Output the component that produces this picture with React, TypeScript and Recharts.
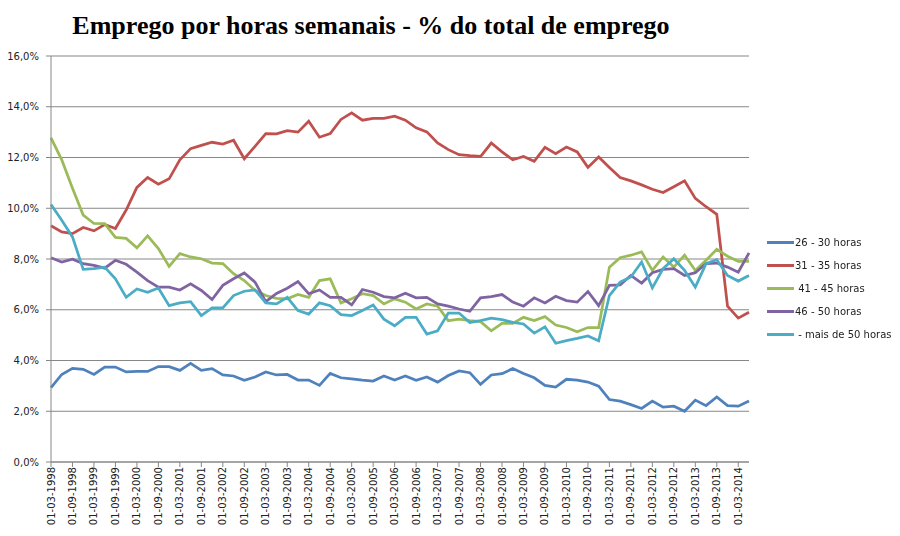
import { CartesianGrid, Legend, Line, LineChart, XAxis, YAxis } from 'recharts'

const quarters = [
  '01-03-1998', '01-06-1998', '01-09-1998', '01-12-1998',
  '01-03-1999', '01-06-1999', '01-09-1999', '01-12-1999',
  '01-03-2000', '01-06-2000', '01-09-2000', '01-12-2000',
  '01-03-2001', '01-06-2001', '01-09-2001', '01-12-2001',
  '01-03-2002', '01-06-2002', '01-09-2002', '01-12-2002',
  '01-03-2003', '01-06-2003', '01-09-2003', '01-12-2003',
  '01-03-2004', '01-06-2004', '01-09-2004', '01-12-2004',
  '01-03-2005', '01-06-2005', '01-09-2005', '01-12-2005',
  '01-03-2006', '01-06-2006', '01-09-2006', '01-12-2006',
  '01-03-2007', '01-06-2007', '01-09-2007', '01-12-2007',
  '01-03-2008', '01-06-2008', '01-09-2008', '01-12-2008',
  '01-03-2009', '01-06-2009', '01-09-2009', '01-12-2009',
  '01-03-2010', '01-06-2010', '01-09-2010', '01-12-2010',
  '01-03-2011', '01-06-2011', '01-09-2011', '01-12-2011',
  '01-03-2012', '01-06-2012', '01-09-2012', '01-12-2012',
  '01-03-2013', '01-06-2013', '01-09-2013', '01-12-2013',
  '01-03-2014', '01-06-2014',
]

const h26_30 = [
  2.93, 3.45, 3.69, 3.65, 3.45, 3.74, 3.74, 3.55, 3.57, 3.57, 3.76,
  3.76, 3.61, 3.89, 3.61, 3.68, 3.43, 3.39, 3.22, 3.35, 3.55, 3.43,
  3.45, 3.23, 3.23, 3.02, 3.49, 3.32, 3.28, 3.23, 3.19, 3.39, 3.23,
  3.39, 3.22, 3.35, 3.15, 3.41, 3.59, 3.52, 3.06, 3.43, 3.48, 3.68,
  3.49, 3.32, 3.02, 2.95, 3.26, 3.23, 3.15, 2.99, 2.46, 2.4, 2.26,
  2.11, 2.4, 2.16, 2.2, 2.0, 2.44, 2.22, 2.56, 2.22, 2.2, 2.4,
]

const h31_35 = [
  9.31, 9.07, 9.0, 9.24, 9.11, 9.36, 9.2, 9.93, 10.82, 11.21, 10.95,
  11.16, 11.91, 12.35, 12.48, 12.6, 12.53, 12.68, 11.95, 12.44, 12.94, 12.93,
  13.06, 13.0, 13.43, 12.8, 12.94, 13.5, 13.76, 13.47, 13.54, 13.54, 13.63,
  13.47, 13.17, 13.01, 12.57, 12.31, 12.11, 12.07, 12.04, 12.57, 12.22, 11.91,
  12.04, 11.85, 12.4, 12.15, 12.41, 12.22, 11.61, 12.02, 11.61, 11.21, 11.08,
  10.92, 10.75, 10.62, 10.85, 11.08, 10.39, 10.06, 9.76, 6.14, 5.67, 5.9,
]

const h41_45 = [
  12.77, 11.91, 10.79, 9.73, 9.4, 9.39, 8.85, 8.81, 8.44, 8.91, 8.41,
  7.71, 8.21, 8.08, 8.01, 7.84, 7.82, 7.42, 7.15, 6.76, 6.56, 6.45,
  6.43, 6.6, 6.49, 7.15, 7.22, 6.27, 6.43, 6.63, 6.56, 6.23, 6.43,
  6.3, 6.03, 6.23, 6.14, 5.57, 5.63, 5.57, 5.53, 5.17, 5.46, 5.46,
  5.7, 5.57, 5.73, 5.4, 5.3, 5.13, 5.3, 5.3, 7.68, 8.05, 8.15,
  8.28, 7.55, 8.08, 7.68, 8.15, 7.55, 7.95, 8.38, 8.11, 7.91, 7.91,
]

const h46_50 = [
  8.05, 7.88, 7.99, 7.82, 7.75, 7.64, 7.95, 7.79, 7.48, 7.15, 6.89,
  6.89, 6.78, 7.02, 6.76, 6.4, 6.96, 7.22, 7.45, 7.09, 6.32, 6.64,
  6.85, 7.11, 6.63, 6.78, 6.49, 6.49, 6.19, 6.8, 6.69, 6.52, 6.47,
  6.65, 6.47, 6.49, 6.23, 6.14, 6.03, 5.94, 6.47, 6.52, 6.6, 6.3,
  6.14, 6.47, 6.27, 6.53, 6.36, 6.3, 6.72, 6.16, 6.96, 6.98, 7.35,
  7.05, 7.46, 7.59, 7.62, 7.35, 7.46, 7.82, 7.84, 7.68, 7.48, 8.24,
]

const h50plus = [
  10.15, 9.53, 8.87, 7.59, 7.62, 7.68, 7.22, 6.49, 6.82, 6.69, 6.86,
  6.16, 6.27, 6.32, 5.77, 6.07, 6.07, 6.56, 6.73, 6.78, 6.27, 6.23,
  6.49, 5.97, 5.83, 6.27, 6.16, 5.81, 5.77, 5.97, 6.19, 5.63, 5.37,
  5.7, 5.7, 5.04, 5.17, 5.87, 5.87, 5.5, 5.57, 5.67, 5.61, 5.5,
  5.44, 5.08, 5.33, 4.68, 4.78, 4.87, 4.97, 4.78, 6.56, 7.09, 7.29,
  7.88, 6.86, 7.62, 8.01, 7.55, 6.89, 7.82, 7.97, 7.35, 7.13, 7.35,
]

const yTicks = [0, 2, 4, 6, 8, 10, 12, 14, 16]

const series = [
  { key: 'a', name: '26 - 30 horas', values: h26_30, color: '#4f81bd' },
  { key: 'b', name: '31 - 35 horas', values: h31_35, color: '#c0504d' },
  { key: 'c', name: ' 41 - 45 horas', values: h41_45, color: '#9bbb59' },
  { key: 'd', name: '46 - 50 horas', values: h46_50, color: '#8064a2' },
  { key: 'e', name: ' - mais de 50 horas', values: h50plus, color: '#4bacc6' },
]

const data = quarters.map((q, i) => {
  const row: Record<string, string | number> = { q }
  series.forEach((s) => {
    row[s.key] = s.values[i]
  })
  return row
})

const font = '"DejaVu Sans", Verdana, sans-serif'
const gridColor = '#878787'

const DateTick = (props: any) => {
  const { x, y, payload } = props
  return (
    <text
      x={x}
      y={y}
      transform={`rotate(-90, ${x}, ${y})`}
      textAnchor="end"
      dy="0.35em"
      fontSize={10}
      fontFamily={font}
      fill="#222"
    >
      {payload.value}
    </text>
  )
}

// keep legend rows in series order (recharts sorts by name otherwise)
const renderLegend = (props: any) => {
  const order = series.map((s) => s.name)
  const items = [...props.payload].sort((a: any, b: any) => order.indexOf(a.value) - order.indexOf(b.value))
  return (
    <div style={{ fontFamily: font, fontSize: 10, color: '#222' }}>
      {items.map((entry: any) => (
        <div key={entry.value} style={{ display: 'flex', alignItems: 'center', height: 23 }}>
          <span style={{ display: 'inline-block', width: 27, height: 3, background: entry.color }} />
          <span style={{ marginLeft: 1, whiteSpace: 'pre' }}>{entry.value}</span>
        </div>
      ))}
    </div>
  )
}

export default function App() {
  return (
    <div style={{ position: 'fixed', left: 0, top: 0, width: 900, height: 536, background: '#fff' }}>
      <div
        style={{
          position: 'absolute',
          left: 0,
          top: 13,
          width: 742,
          textAlign: 'center',
          fontFamily: '"Liberation Serif", "Times New Roman", serif',
          fontWeight: 'bold',
          fontSize: 26,
          lineHeight: '26px',
          color: '#000',
        }}
      >
        Emprego por horas semanais - % do total de emprego
      </div>
      <LineChart width={900} height={536} data={data} margin={{ top: 56, right: 11, bottom: 0, left: 0 }}>
        <CartesianGrid vertical={false} stroke={gridColor} strokeWidth={1} />
        <XAxis
          dataKey="q"
          interval={1}
          height={74}
          tick={<DateTick />}
          tickSize={5}
          tickMargin={0}
          axisLine={{ stroke: gridColor }}
          tickLine={{ stroke: gridColor }}
        />
        <YAxis
          width={51}
          domain={[0, 16]}
          ticks={yTicks}
          interval={0}
          tickFormatter={(v: number) => v.toFixed(1).replace('.', ',') + '%'}
          tick={{ fontSize: 10, fontFamily: font, fill: '#222' }}
          tickSize={5}
          tickMargin={7}
          axisLine={{ stroke: gridColor }}
          tickLine={{ stroke: gridColor }}
        />
        <Legend
          layout="vertical"
          align="right"
          verticalAlign="middle"
          content={renderLegend}
          wrapperStyle={{ left: 767, top: 231, width: 140 }}
        />
        {series.map((s) => (
          <Line
            key={s.key}
            dataKey={s.key}
            name={s.name}
            stroke={s.color}
            strokeWidth={2.75}
            dot={false}
            activeDot={false}
            isAnimationActive={false}
          />
        ))}
      </LineChart>
    </div>
  )
}
